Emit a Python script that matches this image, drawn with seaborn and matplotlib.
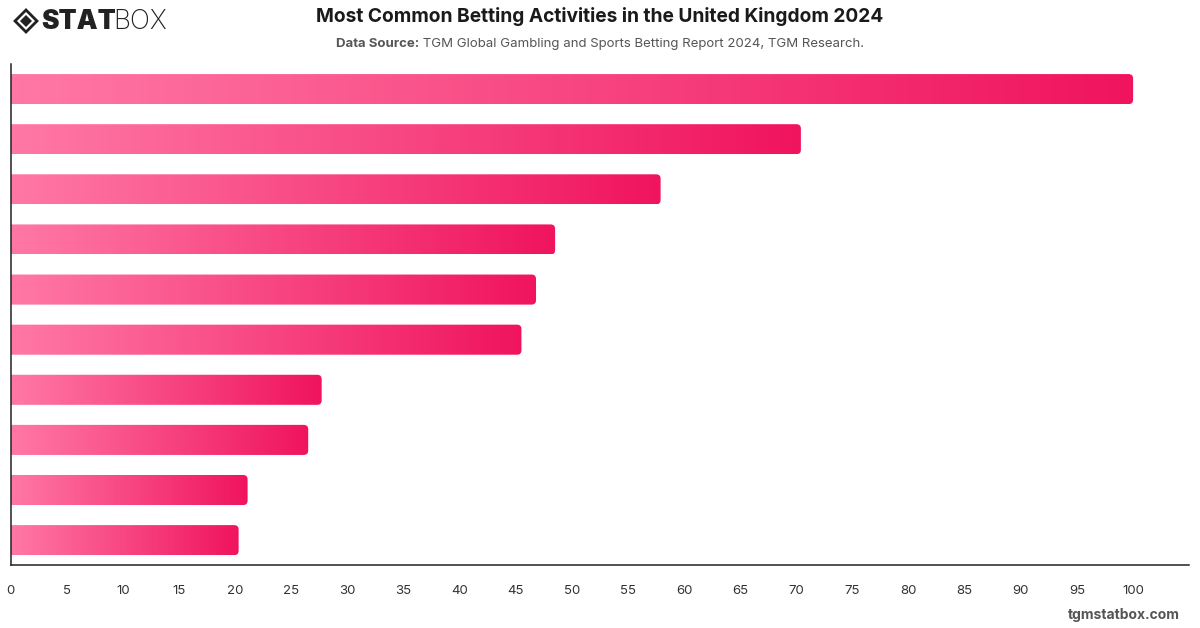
import numpy as np
import pandas as pd
import matplotlib.pyplot as plt
import seaborn as sns
from matplotlib.colors import LinearSegmentedColormap
from matplotlib.patches import FancyBboxPatch, Polygon

# dữ liệu (không có nhãn danh mục hiển thị)
ranks = ["1", "2", "3", "4", "5", "6", "7", "8", "9", "10"]
values = [100, 70.4, 57.9, 48.5, 46.8, 45.5, 27.7, 26.5, 21.1, 20.3]
xticks = list(range(0, 101, 5))

df = pd.DataFrame({"rank": ranks, "value": values})

sns.set_theme(style="white")
plt.rcParams['font.family'] = ['Inter', 'DejaVu Sans']

fig = plt.figure(figsize=(12, 6.28), dpi=100)
ax = fig.add_axes([0.009, 0.1, 0.982, 0.798])

sns.barplot(data=df, x="value", y="rank", orient="h", width=0.6, ax=ax)

# ======================
# GRADIENT CHO TỪNG THANH
# ======================
cmap = LinearSegmentedColormap.from_list("pink", ["#ff78a5", "#f0145e"])
grad = np.linspace(0, 1, 256).reshape(1, -1)

for bar in list(ax.patches):
    x0, y0 = bar.get_x(), bar.get_y()
    w, h = bar.get_width(), bar.get_height()
    bar.set_visible(False)
    box = FancyBboxPatch((x0 - 1, y0), w + 1, h,
                         boxstyle="round,pad=0,rounding_size=0.4",
                         mutation_aspect=0.22,
                         facecolor="none", edgecolor="none")
    ax.add_patch(box)
    im = ax.imshow(grad, cmap=cmap, extent=[x0, x0 + w, y0 + h, y0],
                   aspect="auto", interpolation="bicubic", zorder=2)
    im.set_clip_path(box)

ax.set_xlim(0, 105)
ax.set_ylim(9.5, -0.5)

ax.set_xticks(xticks)
ax.set_xticklabels([str(t) for t in xticks], fontsize=9.5, color="#333333")
ax.set_yticks([])
ax.set_xlabel("")
ax.set_ylabel("")
ax.tick_params(axis="x", length=0, pad=14)

sns.despine(ax=ax)
for s in ["left", "bottom"]:
    ax.spines[s].set_color("#222222")
    ax.spines[s].set_linewidth(1.1)

# ======================
# TIÊU ĐỀ
# ======================
fig.text(0.5, 1 - 17 / 628, "Most Common Betting Activities in the United Kingdom 2024",
         ha="center", va="center", fontsize=13.8, fontweight="bold", color="#1a1a1a")

# phụ đề: phần in đậm + phần thường, căn giữa theo tổng chiều rộng
renderer = fig.canvas.get_renderer()
sy = 1 - 44 / 628
t1 = fig.text(0, sy, "Data Source:", ha="left", va="center", fontsize=9.5,
              fontweight="bold", color="#555555")
t2 = fig.text(0, sy, " TGM Global Gambling and Sports Betting Report 2024, TGM Research.",
              ha="left", va="center", fontsize=9.5, color="#555555")
w1 = t1.get_window_extent(renderer).width
w2 = t2.get_window_extent(renderer).width
start = 600 - (w1 + w2) / 2
t1.set_x(start / 1200)
t2.set_x((start + w1) / 1200)

# logo STATBOX
cx, cy, r = 26 / 1200, 1 - 21 / 628, 11
outer = Polygon([[cx - r / 1200, cy], [cx, cy + r / 628], [cx + r / 1200, cy], [cx, cy - r / 628]],
                closed=True, transform=fig.transFigure, facecolor="none",
                edgecolor="#222222", linewidth=2)
ri = 6
inner = Polygon([[cx - ri / 1200, cy], [cx, cy + ri / 628], [cx + ri / 1200, cy], [cx, cy - ri / 628]],
                closed=True, transform=fig.transFigure, facecolor="#222222", edgecolor="none")
fig.patches.extend([outer, inner])
fig.text(41 / 1200, 1 - 22 / 628, "STAT", ha="left", va="center", fontsize=19,
         fontweight="black", color="#222222")
fig.text(113 / 1200, 1 - 22 / 628, "BOX", ha="left", va="center", fontsize=19,
         fontweight="light", color="#222222")

fig.text(1180 / 1200, 1 - 615 / 628, "tgmstatbox.com", ha="right", va="center",
         fontsize=10, fontweight="bold", color="#555555")

plt.savefig("out.png", dpi=100)
